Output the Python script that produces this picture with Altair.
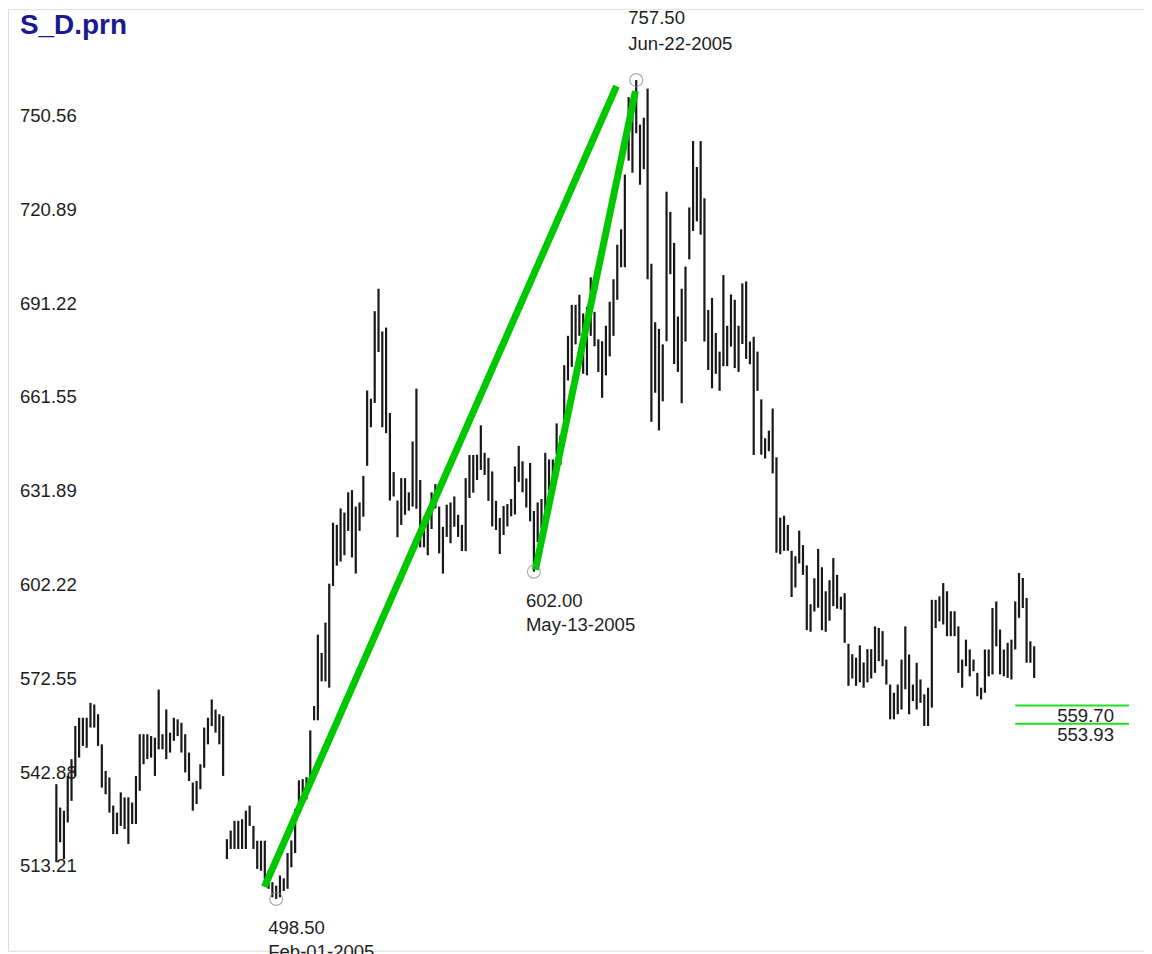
import altair as alt
import pandas as pd

# ---- price bars (high / low), one per trading day ----
highs = [
    534.8, 527.4, 526.4, 537.4, 542.7, 553.2, 555.8, 555.8, 555.8, 560.5,
    560.0, 556.9, 547.4, 539.0, 536.9, 528.0, 525.8, 532.2, 530.6, 530.6,
    529.0, 537.4, 550.6, 550.6, 550.6, 550.0, 549.5, 564.7, 550.6, 558.4,
    551.1, 555.8, 555.3, 554.2, 550.6, 544.8, 535.3, 535.8, 541.1, 552.7,
    555.8, 561.6, 558.4, 556.9, 556.3, 517.4, 520.1, 523.2, 523.2, 523.7,
    526.4, 528.0, 521.6, 516.9, 516.9, 516.9, 507.4, 503.8, 502.7, 505.9,
    505.0, 513.0, 517.0, 527.0, 536.0, 536.4, 537.0, 551.8, 559.5, 582.1,
    576.3, 585.9, 598.2, 617.5, 616.8, 622.0, 620.7, 627.1, 627.8, 622.6,
    623.9, 632.3, 659.3, 656.7, 684.4, 691.5, 678.0, 679.2, 652.2, 633.5,
    624.5, 631.6, 631.6, 627.1, 643.2, 659.9, 631.0, 619.4, 620.0, 627.1,
    629.7, 622.6, 616.2, 623.2, 623.9, 625.8, 620.0, 616.8, 631.6, 638.9,
    638.9, 639.0, 648.3, 639.6, 638.0, 633.7, 624.4, 619.0, 622.8, 623.4,
    625.0, 635.3, 641.8, 636.9, 631.5, 636.4, 621.2, 623.9, 625.0, 639.6,
    637.5, 637.5, 648.9, 645.1, 667.3, 676.6, 686.4, 686.4, 689.6, 683.7,
    685.8, 695.1, 684.2, 675.5, 674.9, 679.8, 687.4, 694.5, 705.4, 710.3,
    727.6, 752.1, 750.5, 757.5, 743.4, 745.6, 754.8, 699.4, 680.9, 678.8,
    673.9, 722.2, 715.8, 706.0, 682.7, 691.5, 698.5, 717.2, 738.2, 730.0,
    738.2, 720.1, 684.8, 688.6, 677.5, 671.6, 695.8, 679.8, 689.7, 688.0,
    679.8, 693.2, 693.8, 674.8, 676.3, 671.6, 656.5, 644.2, 646.6, 653.6,
    638.2, 619.1, 619.7, 616.8, 608.6, 606.9, 615.0, 610.4, 604.0, 591.7,
    599.9, 609.2, 603.4, 595.8, 599.3, 606.3, 601.0, 594.1, 595.2, 579.2,
    575.9, 574.8, 578.7, 573.3, 577.5, 577.5, 584.7, 584.2, 583.2, 574.2,
    566.3, 563.7, 566.3, 574.2, 584.7, 575.8, 566.3, 573.2, 567.9, 563.2,
    565.3, 593.1, 593.1, 594.2, 598.4, 595.8, 589.5, 589.5, 584.7, 574.2,
    580.5, 577.4, 574.2, 570.0, 565.3, 577.4, 577.4, 590.5, 592.6, 583.7,
    577.4, 579.5, 580.5, 592.6, 601.6, 600.0, 593.7, 580.0, 578.4,
]
lows = [
    510.1, 516.4, 511.1, 522.7, 529.5, 537.4, 543.2, 546.9, 546.3, 552.7,
    552.7, 546.9, 533.7, 531.6, 525.8, 519.0, 519.0, 521.6, 520.6, 515.9,
    522.2, 522.2, 532.7, 541.1, 542.7, 543.2, 537.4, 545.8, 545.8, 542.7,
    544.8, 548.5, 550.0, 544.8, 538.5, 535.8, 526.4, 528.5, 533.2, 540.0,
    547.4, 553.2, 551.1, 547.4, 537.4, 511.1, 514.3, 514.3, 514.3, 514.3,
    514.3, 521.6, 514.3, 508.0, 507.4, 504.8, 501.7, 499.0, 498.5, 499.0,
    501.0, 501.7, 508.5, 513.0, 527.0, 532.0, 530.0, 535.7, 555.0, 555.0,
    567.3, 567.3, 565.3, 597.5, 603.9, 605.2, 607.2, 614.9, 606.5, 601.4,
    614.9, 619.4, 635.5, 647.7, 655.4, 671.5, 647.7, 645.8, 624.5, 625.8,
    612.9, 616.8, 620.0, 621.3, 622.6, 621.9, 609.7, 609.7, 607.2, 615.5,
    622.0, 607.8, 601.4, 613.0, 611.0, 616.2, 613.0, 608.5, 608.5, 625.3,
    627.0, 631.0, 634.2, 632.6, 624.4, 616.3, 615.2, 607.6, 613.6, 616.3,
    619.5, 620.1, 630.4, 627.1, 622.3, 617.9, 602.0, 611.4, 615.7, 621.2,
    627.7, 631.5, 639.1, 635.8, 650.0, 662.5, 666.8, 673.9, 676.6, 664.6,
    664.1, 676.6, 673.3, 665.2, 657.0, 664.1, 670.1, 676.6, 688.0, 698.3,
    698.3, 732.0, 728.2, 740.7, 724.4, 729.3, 694.5, 649.4, 658.6, 646.7,
    655.9, 674.9, 696.1, 667.7, 665.2, 655.3, 674.8, 700.8, 709.8, 712.8,
    708.6, 674.8, 665.8, 660.0, 664.6, 659.2, 667.0, 667.0, 673.2, 666.4,
    665.2, 674.0, 669.3, 667.6, 638.9, 659.2, 639.0, 637.8, 640.1, 633.1,
    608.0, 607.5, 608.6, 608.6, 594.0, 597.0, 604.6, 601.0, 583.5, 583.0,
    589.4, 590.6, 583.5, 583.0, 586.5, 591.1, 590.3, 590.0, 579.5, 565.9,
    568.2, 565.9, 567.0, 565.3, 567.0, 568.2, 570.0, 573.7, 572.1, 566.3,
    555.3, 555.3, 556.9, 558.4, 564.8, 556.9, 561.1, 558.4, 560.5, 553.2,
    553.2, 559.0, 584.2, 586.3, 585.3, 581.6, 581.6, 581.6, 570.0, 565.3,
    572.1, 568.9, 570.5, 562.6, 561.6, 563.7, 568.9, 569.5, 578.4, 569.5,
    568.9, 568.4, 567.9, 577.4, 587.4, 590.5, 573.2, 573.2, 568.4,
]
bar_index = list(range(1, len(highs) + 1))

# ---- price scale labels ----
tick_values = [513.21, 542.88, 572.55, 602.22, 631.89, 661.55, 691.22, 720.89, 750.56]

# ---- drawn trend lines (bar index, price) ----
trend_id = ["A", "A", "B", "B"]
trend_idx = [55.9, 148.8, 127.4, 153.8]
trend_price = [502.3, 755.6, 602.6, 754.0]

# ---- horizontal levels at the right ----
level_values = [559.70, 553.93]
level_start = [254.0, 254.0]
level_end = [284.0, 284.0]

# ---- marked pivots ----
pivot_idx = [154, 127, 59]
pivot_price = [757.50, 602.00, 498.50]
pivot_date = ["Jun-22-2005", "May-13-2005", "Feb-01-2005"]
pivot_side = ["high", "low", "low"]

title_text = ["S_D.prn"]

FONT = "Liberation Sans"
TXT = "#1e1e1e"

xs = alt.Scale(domain=[-11.76, 287.98], nice=False, zero=False)
ys = alt.Scale(domain=[482.1, 779.9], nice=False, zero=False)

bars_df = pd.DataFrame({"i": bar_index, "high": highs, "low": lows})
ticks_df = pd.DataFrame({"tick": tick_values})
trend_df = pd.DataFrame({"id": trend_id, "i": trend_idx, "price": trend_price})
level_df = pd.DataFrame({"v": level_values, "s": level_start, "e": level_end})
level_df["label"] = [f"{v:.2f}" for v in level_values]
pivot_df = pd.DataFrame({"i": pivot_idx, "price": pivot_price,
                         "date": pivot_date, "side": pivot_side})
pivot_df["plabel"] = [f"{p:.2f}" for p in pivot_price]
title_df = pd.DataFrame({"t": title_text})

tick_layer = alt.Chart(ticks_df).mark_text(
    align="left", baseline="middle", dy=14, fontSize=18.6, font=FONT, color=TXT
).encode(
    x=alt.value(12),
    y=alt.Y("tick:Q", scale=ys, axis=None),
    text=alt.Text("tick:Q", format=".2f"),
)

bar_layer = alt.Chart(bars_df).mark_rule(strokeWidth=2.2, color="#181818").encode(
    x=alt.X("i:Q", scale=xs, axis=None),
    y=alt.Y("low:Q", scale=ys, axis=None),
    y2="high:Q",
)

trend_layer = alt.Chart(trend_df).mark_line(
    color="#00c800", strokeWidth=7, strokeCap="butt"
).encode(
    x=alt.X("i:Q", scale=xs, axis=None),
    y=alt.Y("price:Q", scale=ys, axis=None),
    detail="id:N",
)

level_layer = alt.Chart(level_df).mark_rule(color="#22dd22", strokeWidth=2).encode(
    x=alt.X("s:Q", scale=xs, axis=None),
    x2="e:Q",
    y=alt.Y("v:Q", scale=ys, axis=None),
)

level_text = alt.Chart(level_df).mark_text(
    align="right", baseline="middle", dx=-15, dy=11, fontSize=18.6, font=FONT, color=TXT
).encode(
    x=alt.X("e:Q", scale=xs, axis=None),
    y=alt.Y("v:Q", scale=ys, axis=None),
    text="label:N",
)

pivot_points = alt.Chart(pivot_df).mark_point(
    shape="circle", size=170, filled=False, color="#8c8c8c", strokeWidth=1.2
).encode(
    x=alt.X("i:Q", scale=xs, axis=None),
    y=alt.Y("price:Q", scale=ys, axis=None),
)

def pivot_text(side, field, dy):
    return alt.Chart(pivot_df).transform_filter(
        alt.datum.side == side
    ).mark_text(
        align="left", baseline="middle", dx=-8, dy=dy, fontSize=18.6, font=FONT, color=TXT
    ).encode(
        x=alt.X("i:Q", scale=xs, axis=None),
        y=alt.Y("price:Q", scale=ys, axis=None),
        text=f"{field}:N",
    )

title_layer = alt.Chart(title_df).mark_text(
    align="left", baseline="alphabetic", fontSize=28, fontWeight="bold",
    font=FONT, color="#1a1a8e"
).encode(
    x=alt.value(12), y=alt.value(25), text="t:N"
)

chart = alt.layer(
    tick_layer,
    bar_layer,
    trend_layer,
    level_layer,
    level_text,
    pivot_points,
    pivot_text("high", "plabel", -62),
    pivot_text("high", "date", -36),
    pivot_text("low", "plabel", 29),
    pivot_text("low", "date", 53),
    title_layer,
).properties(
    width=1139,
    height=944,
    autosize=alt.AutoSizeParams(type="none"),
    padding={"left": 0, "top": 0, "right": 0, "bottom": 2},
).configure_view(
    stroke="#c8c8c8", strokeWidth=1.5, fill="white"
).configure(background="white")

chart.save("out.html", embed_options={"renderer": "svg", "actions": False})
